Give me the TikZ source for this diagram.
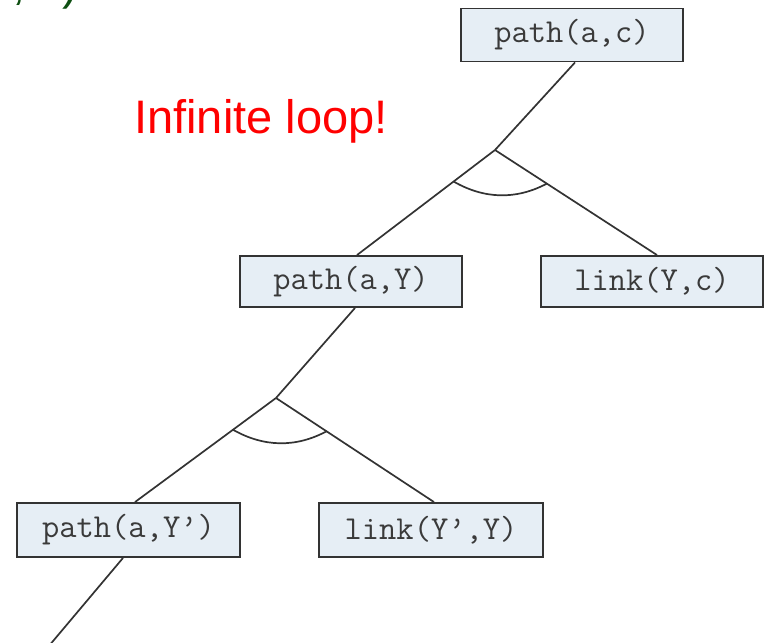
\documentclass[tikz,border=0pt]{standalone}
\usepackage{fontspec}
\setmainfont{Liberation Sans}
\usetikzlibrary{calc}
\definecolor{boxfill}{HTML}{E6EEF5}
\definecolor{edge}{HTML}{333333}
\definecolor{codetext}{HTML}{3A3A3A}
\definecolor{goalgreen}{HTML}{0E4F12}
\tikzset{
  goal/.style={draw=edge, line width=1.9pt, fill=boxfill, text=codetext,
    font=\ttfamily\fontsize{33.5}{36}\selectfont, inner sep=0pt,
    minimum width=222pt, minimum height=53pt},
  branch/.style={draw=edge, line width=1.7pt},
  andarc/.style={draw=edge, line width=1.7pt},
}
\begin{document}
\begin{tikzpicture}[x=1pt, y=-1pt]
\useasboundingbox (0,0) rectangle (769,643);
\clip (0,0) rectangle (769,643);

% query text running off the top edge
\node[anchor=base east, text=goalgreen, font=\fontsize{47}{50}\selectfont, inner sep=0pt]
  (query) at (78,-1) {path(a, c)};

\node[anchor=base west, text=red, font=\fontsize{47}{50}\selectfont, inner sep=0pt]
  (note) at (134,133) {Infinite loop!};

% goals
\node[goal] (pac) at (572,35) {path(a,c)};
\node[goal, minimum height=51pt] (pay) at (351,281.5) {path(a,Y)};
\node[goal, minimum height=51pt] (lyc) at (652,281.5) {link(Y,c)};
\node[goal, minimum width=223pt, minimum height=54pt] (payp) at (128.5,530) {path(a,Y’)};
\node[goal, minimum width=224pt, minimum height=54pt] (lyy) at (431,530) {link(Y’,Y)};

% branching points
\coordinate (j1) at (495,150);
\coordinate (j2) at (276,398);
\coordinate (tail) at (43,653);

% first expansion
\draw[branch] ([xshift=3pt]pac.south) -- (j1);
\draw[branch] (j1) -- ([xshift=6pt]pay.north);
\draw[branch] (j1) -- ([xshift=5pt]lyc.north);
\coordinate (a1) at ($(j1)!0.30!([xshift=6pt]pay.north)$);
\coordinate (b1) at ($(j1)!0.32!([xshift=5pt]lyc.north)$);
\draw[andarc] (a1) .. controls ($($(a1)!0.33!(b1)$)+(0,17)$)
                  and ($($(a1)!0.67!(b1)$)+(0,17)$) .. (b1);

% second expansion
\draw[branch] ([xshift=4pt]pay.south) -- (j2);
\draw[branch] (j2) -- ([xshift=6.5pt]payp.north);
\draw[branch] (j2) -- ([xshift=3pt]lyy.north);
\coordinate (a2) at ($(j2)!0.305!([xshift=6.5pt]payp.north)$);
\coordinate (b2) at ($(j2)!0.32!([xshift=3pt]lyy.north)$);
\draw[andarc] (a2) .. controls ($($(a2)!0.33!(b2)$)+(0,17)$)
                  and ($($(a2)!0.67!(b2)$)+(0,17)$) .. (b2);

% continues below
\draw[branch] ([xshift=-5.5pt]payp.south) -- (tail);
\end{tikzpicture}
\end{document}
